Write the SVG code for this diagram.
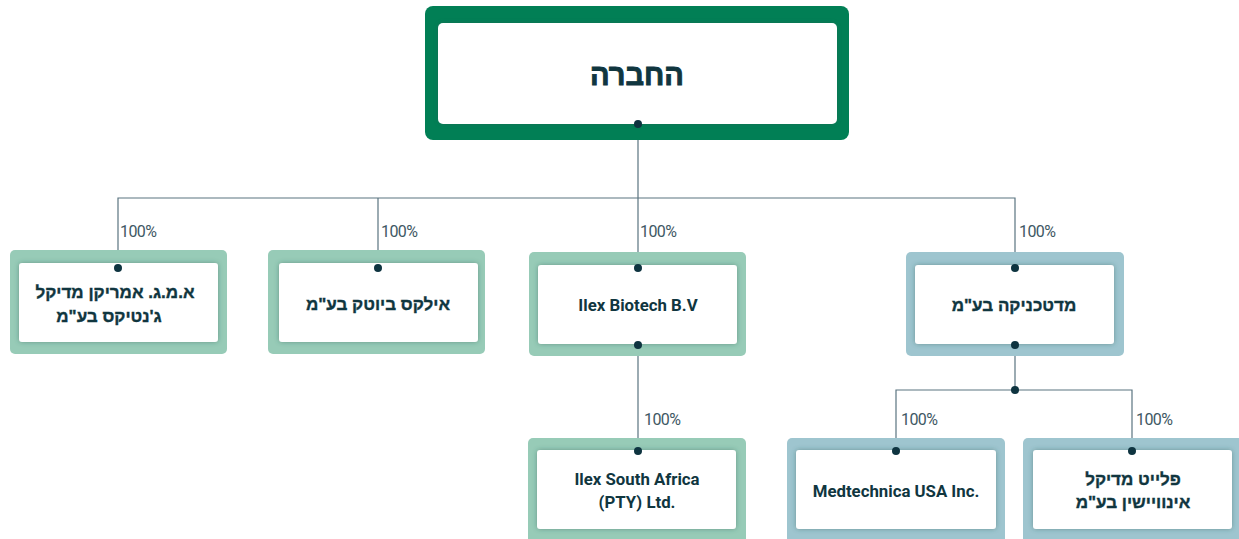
<svg xmlns="http://www.w3.org/2000/svg" width="1239" height="539" viewBox="0 0 1239 539">
<style>
.frame-g{fill:#97CBB7}
.frame-b{fill:#9EC5CF}
.inner{fill:#FFFFFF;filter:url(#sh)}
.lbl{font-family:"Liberation Sans","DejaVu Sans",sans-serif;font-weight:bold;font-size:17px;fill:#10363F;stroke:#10363F;stroke-width:0.35;text-anchor:middle}
.lat{font-family:Roboto,"Liberation Sans",sans-serif;font-weight:bold;font-size:16.8px;fill:#10363F;text-anchor:middle}
.pct{font-family:Roboto,"Liberation Sans",sans-serif;font-weight:400;font-size:16px;fill:#3E5863;letter-spacing:-0.6px}
.ln{stroke:#5A7480;stroke-width:1.2;fill:none}
.dot{fill:#0E3440}
</style>
<defs>
<filter id="sh" x="-10%" y="-15%" width="120%" height="130%">
<feDropShadow dx="0" dy="0" stdDeviation="2.5" flood-color="#2E5B55" flood-opacity="0.45"/>
</filter>
</defs>
<g id="connectors">
<path class="ln" d="M638 124 V268 M118 268 V198 H1015 V268 M378 198 V268 M638 345 V451 M1015 345 V390 M896 451 V390 H1132 V451"/>
</g>
<g id="node-root">
<rect x="425" y="6" width="424" height="134" rx="8" fill="#017F55"/>
<rect x="438" y="23" width="399" height="101" rx="5" fill="#FFFFFF" filter="url(#sh)"/>
<text x="637" y="85" class="lbl" style="font-size:29px;stroke-width:0.9" direction="rtl">החברה</text>
</g>
<g id="node-amg">
<rect class="frame-g" x="10" y="250" width="217" height="104" rx="5"/>
<rect class="inner" x="19" y="263" width="199" height="79" rx="3"/>
<text class="lbl" x="115" y="298" direction="rtl">א.מ.ג. אמריקן מדיקל</text>
<text class="lbl" x="109" y="322" direction="rtl">ג'נטיקס בע"מ</text>
</g>
<g id="node-ilex-biotech-il">
<rect class="frame-g" x="268" y="250" width="217" height="104" rx="5"/>
<rect class="inner" x="279" y="263" width="199" height="79" rx="3"/>
<text class="lbl" x="378" y="310" direction="rtl">אילקס ביוטק בע"מ</text>
</g>
<g id="node-ilex-bv">
<rect class="frame-g" x="529" y="252" width="217" height="104" rx="5"/>
<rect class="inner" x="538" y="265" width="199" height="79" rx="3"/>
<text class="lat" x="638" y="311">Ilex Biotech B.V</text>
</g>
<g id="node-medtechnica">
<rect class="frame-b" x="906" y="252" width="218" height="104" rx="5"/>
<rect class="inner" x="915" y="265" width="199" height="79" rx="3"/>
<text class="lbl" x="1014" y="311" direction="rtl">מדטכניקה בע"מ</text>
</g>
<g id="node-ilex-sa">
<rect class="frame-g" x="528" y="438" width="218" height="110" rx="5"/>
<rect class="inner" x="537" y="450" width="199" height="79" rx="3"/>
<text class="lat" x="637" y="485">Ilex South Africa</text>
<text class="lat" x="637" y="508">(PTY) Ltd.</text>
</g>
<g id="node-medtechnica-usa">
<rect class="frame-b" x="787" y="438" width="218" height="110" rx="5"/>
<rect class="inner" x="796" y="450" width="200" height="79" rx="3"/>
<text class="lat" x="896" y="497">Medtechnica USA Inc.</text>
</g>
<g id="node-pleyt">
<rect class="frame-b" x="1023" y="438" width="220" height="110" rx="5"/>
<rect class="inner" x="1033" y="450" width="199" height="79" rx="3"/>
<text class="lbl" x="1133" y="485" direction="rtl">פלייט מדיקל</text>
<text class="lbl" x="1133" y="508" direction="rtl">אינוויישין בע"מ</text>
</g>
<g id="dots">
<circle class="dot" cx="638" cy="124" r="4"/>
<circle class="dot" cx="118" cy="268" r="4"/>
<circle class="dot" cx="378" cy="268" r="4"/>
<circle class="dot" cx="638" cy="268" r="4"/>
<circle class="dot" cx="1015" cy="268" r="4"/>
<circle class="dot" cx="638" cy="345" r="4"/>
<circle class="dot" cx="1015" cy="345" r="4"/>
<circle class="dot" cx="1015" cy="390" r="4"/>
<circle class="dot" cx="638" cy="451" r="4"/>
<circle class="dot" cx="896" cy="451" r="4"/>
<circle class="dot" cx="1132" cy="451" r="4"/>
</g>
<g id="labels">
<text class="pct" x="120" y="237">100%</text>
<text class="pct" x="381" y="237">100%</text>
<text class="pct" x="640" y="237">100%</text>
<text class="pct" x="1019" y="237">100%</text>
<text class="pct" x="644" y="425">100%</text>
<text class="pct" x="901" y="425">100%</text>
<text class="pct" x="1136" y="425">100%</text>
</g>
</svg>
